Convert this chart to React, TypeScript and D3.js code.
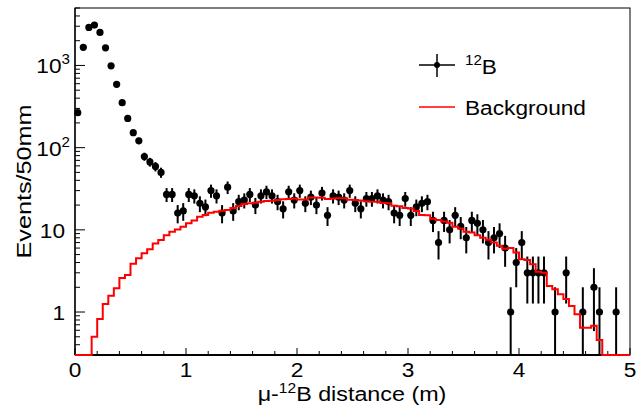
import React from "react";
import * as d3 from "d3";

// 100 bins of 50 mm from 0 to 5 m
const binWidth = 0.05;
const dataCounts = [
  266, 1660, 2900, 3100, 2520, 1640, 990, 590, 352, 227,
  152, 121, 78, 67, 59, 50, 27, 27, 16, 17,
  27, 26, 21, 19, 30, 26, 16, 33, 17, 22,
  23, 27, 20, 26, 29, 26, 22, 18, 29, 23,
  30, 21, 25, 20, 28, 15, 26, 25, 23, 30,
  21, 18, 24, 24, 26, 23, 22, 16, 15, 24,
  15, 19, 21, 22, 13, 7, 13, 10, 15, 11,
  8, 13, 12, 10, 7, 8, 9, 6, 1, 4,
  7, 3, 3, 3, 3, 0, 1, 0, 3, 0,
  0, 1, 0, 2, 1, 0, 0, 1, 0, 0,
];
const background = [
  0, 0, 0, 0.5, 0.82, 1.25, 1.58, 1.94, 2.6, 2.82,
  3.87, 4.5, 5.2, 5.8, 6.8, 7.5, 8.6, 9.5, 10.1, 10.9,
  12.0, 13.0, 14.4, 15.2, 16.1, 16.6, 17.1, 17.4, 18.4, 19.5,
  20.6, 21.0, 21.4, 22.0, 22.4, 22.6, 23.0, 23.5, 23.7, 24.0,
  23.4, 23.4, 24.8, 24.8, 24.6, 23.8, 24.0, 24.2, 24.2, 23.2,
  23.0, 22.8, 22.2, 22.0, 22.0, 21.2, 21.0, 19.6, 19.4, 18.4,
  18.2, 16.9, 15.2, 15.0, 13.6, 13.2, 12.6, 12.2, 10.9, 10.4,
  9.5, 9.3, 8.6, 8.0, 7.6, 7.0, 6.4, 5.9, 6.0, 5.3,
  4.4, 4.3, 3.8, 3.1, 3.0, 2.07, 1.89, 1.64, 1.44, 1.18,
  0.94, 0.645, 0.645, 0.68, 0.456, 0, 0, 0, 0, 0,
];
const xTicks = [0, 1, 2, 3, 4, 5];
const yMajorTicks = [1, 10, 100, 1000];
const yTickLabels = [
  { base: "1", exp: "" },
  { base: "10", exp: "" },
  { base: "10", exp: "2" },
  { base: "10", exp: "3" },
];

const W = 637;
const H = 407;
const left = 75;
const right = 630;
const top = 8;
const bottom = 355;
const FONT = "'Liberation Sans', Arial, Helvetica, sans-serif";
const FS = 21;
const SUP = 14;
const SX = 1.08;

export default function App() {
  const x = d3.scaleLinear().domain([0, 5]).range([left, right]);
  const yMin = 0.3;
  const y = d3.scaleLog().domain([yMin, 5000]).range([bottom, top]).clamp(true);

  // background step path
  const pts: [number, number][] = [];
  background.forEach((v, i) => {
    const yy = y(v > 0 ? v : yMin);
    pts.push([x(i * binWidth), yy]);
    pts.push([x((i + 1) * binWidth), yy]);
  });
  const bgPath = d3.line()(pts) || "";

  // minor ticks
  const xMinor: number[] = [];
  for (let v = 0; v <= 5.0001; v += 0.2) {
    if (Math.abs(v - Math.round(v)) > 1e-6) xMinor.push(v);
  }
  const yMinor: number[] = [];
  for (let e = -1; e <= 3; e++) {
    for (let m = 2; m <= 9; m++) {
      const v = m * Math.pow(10, e);
      if (v >= yMin && v <= 5000) yMinor.push(v);
    }
  }

  return (
    <svg
      width={W}
      height={H}
      style={{ position: "absolute", left: 0, top: 0, background: "#fff" }}
      fontFamily={FONT}
    >
      <rect x={0} y={0} width={W} height={H} fill="#fff" />
      {/* frame */}
      <rect x={left} y={top} width={right - left} height={bottom - top} fill="none" stroke="#000" strokeWidth={1} />
      <line x1={left} x2={right} y1={bottom} y2={bottom} stroke="#000" strokeWidth={1.8} />
      <line x1={left} x2={left} y1={top} y2={bottom} stroke="#000" strokeWidth={1.3} />

      {/* x ticks */}
      {xTicks.map((t) => (
        <line key={"xt" + t} x1={x(t)} x2={x(t)} y1={bottom} y2={bottom - 7} stroke="#000" strokeWidth={1} />
      ))}
      {xMinor.map((t, i) => (
        <line key={"xm" + i} x1={x(t)} x2={x(t)} y1={bottom} y2={bottom - 4} stroke="#000" strokeWidth={1} />
      ))}
      {xTicks.map((t) => (
        <text
          key={"xl" + t}
          transform={`translate(${x(t)}, 377) scale(${SX}, 1)`}
          textAnchor="middle"
          fontSize={FS}
          fill="#000"
        >
          {t}
        </text>
      ))}

      {/* y ticks */}
      {yMajorTicks.map((t) => (
        <line key={"yt" + t} x1={left} x2={left + 10} y1={y(t)} y2={y(t)} stroke="#000" strokeWidth={1} />
      ))}
      {yMinor.map((t, i) => (
        <line key={"ym" + i} x1={left} x2={left + 5} y1={y(t)} y2={y(t)} stroke="#000" strokeWidth={1} />
      ))}
      {yMajorTicks.map((t, i) => {
        const lab = yTickLabels[i];
        return (
          <text
            key={"yl" + t}
            transform={`translate(${lab.exp ? 70 : 65}, ${y(t) + 8}) scale(${SX}, 1)`}
            textAnchor="end"
            fontSize={FS}
            fill="#000"
          >
            {lab.base}
            {lab.exp ? (
              <tspan dy={-9} fontSize={SUP}>
                {lab.exp}
              </tspan>
            ) : null}
          </text>
        );
      })}

      {/* axis titles */}
      <text transform={`translate(352, 401) scale(1.11, 1)`} textAnchor="middle" fontSize={FS} fill="#000">
        μ-<tspan dy={-8} fontSize={SUP}>12</tspan>
        <tspan dy={8}>B distance (m)</tspan>
      </text>
      <text
        transform={`translate(31, ${(top + bottom) / 2}) rotate(-90) scale(1.2, 1)`}
        textAnchor="middle"
        fontSize={FS}
        fill="#000"
      >
        Events/50mm
      </text>

      {/* data error bars and markers */}
      {dataCounts.map((n, i) => {
        if (n <= 0) return null;
        const cx = x((i + 0.5) * binWidth);
        const e = Math.sqrt(n);
        const lo = n - e > 0 ? n - e : yMin;
        return (
          <g key={"d" + i}>
            <line x1={cx} x2={cx} y1={y(lo)} y2={y(n + e)} stroke="#000" strokeWidth={2} />
            <circle cx={cx} cy={y(n)} r={3.6} fill="#000" />
          </g>
        );
      })}

      {/* background histogram */}
      <path d={bgPath} fill="none" stroke="#ff0000" strokeWidth={2} />

      {/* legend */}
      <line x1={419} x2={455} y1={65} y2={65} stroke="#000" strokeWidth={1.5} />
      <line x1={437} x2={437} y1={54} y2={77} stroke="#000" strokeWidth={1.5} />
      <circle cx={437} cy={65} r={3} fill="#000" />
      <text transform={`translate(465, 74) scale(${SX}, 1)`} fontSize={FS} fill="#000">
        <tspan dy={-9} fontSize={SUP}>12</tspan>
        <tspan dy={9}>B</tspan>
      </text>
      <line x1={419} x2={455} y1={107} y2={107} stroke="#ff0000" strokeWidth={1.5} />
      <text transform={`translate(465, 115) scale(${SX}, 1)`} fontSize={FS} fill="#000">
        Background
      </text>
    </svg>
  );
}
